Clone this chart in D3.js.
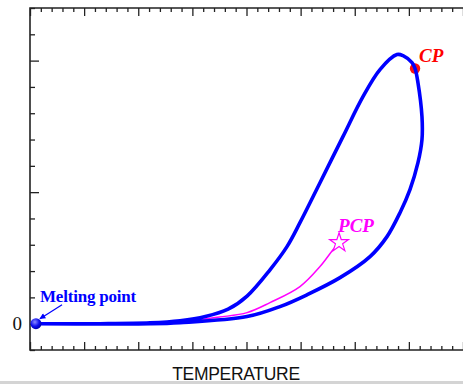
<!DOCTYPE html>
<html>
<head>
<meta charset="utf-8">
<script src="https://cdn.jsdelivr.net/npm/d3@7"></script>
<style>
  html, body { margin: 0; padding: 0; background: #fff; }
  svg { display: block; }
</style>
</head>
<body>
<div id="chart"></div>
<script>
// ─── Data (x: minor tick units of temperature, y: minor tick units) ─────────
const upperX = [0.55, 6.47, 11.09, 13.86, 16.2, 18.3, 20.05, 22.17, 23.74, 24.94, 26.79, 28.91, 30.76, 32.33, 33.90, 34.46, 35.29, 35.57];
const upperY = [0, 0, 0.03, 0.11, 0.27, 0.55, 1.05, 2.05, 2.93, 3.84, 5.36, 7.11, 8.63, 9.66, 10.23, 10.19, 9.92, 9.70];

const lowerX = [0.55, 11.09, 13.86, 20.05, 23.09, 25.59, 28.64, 31.41, 32.98, 34.18, 35.10, 35.84, 36.21, 36.21, 35.84, 35.57];
const lowerY = [0, 0, 0.04, 0.27, 0.65, 1.10, 1.75, 2.55, 3.31, 4.22, 5.10, 6.12, 7.00, 7.87, 9.16, 9.70];

const pcpX = [15.5, 17.5, 20.05, 22.17, 24.94, 26.79, 27.99, 28.55];
const pcpY = [0.14, 0.25, 0.42, 0.80, 1.41, 2.17, 2.81, 3.08];

const meltPoint = [0.55, 0];
const cpPoint = [35.57, 9.70];
const pcpPoint = [28.55, 3.08];
const arrowFrom = [2.96, 0.72];

const xMajor = [0, 5, 10, 15, 20, 25, 30, 35, 40];
const xMinor = [1, 2, 3, 4, 6, 7, 8, 9, 11, 12, 13, 14, 16, 17, 18, 19, 21, 22, 23, 24, 26, 27, 28, 29, 31, 32, 33, 34, 36, 37, 38, 39];
const yMajor = [0, 5, 10];
const yMinor = [-1, 1, 2, 3, 4, 6, 7, 8, 9, 11, 12];
const yLabels = { 0: "0" };

// ─── Chart ───────────────────────────────────────────────────────────────────
const W = 463, H = 384;
const svg = d3.select("#chart").append("svg").attr("width", W).attr("height", H);

const x = d3.scaleLinear().domain([0, 40]).range([30, 463]);
const y = d3.scaleLinear().domain([-1, 12]).range([350, 8]);

const defs = svg.append("defs");
const grad = defs.append("radialGradient").attr("id", "ball").attr("cx", "40%").attr("cy", "35%").attr("r", "65%");
grad.append("stop").attr("offset", "0%").attr("stop-color", "#8c8cff");
grad.append("stop").attr("offset", "60%").attr("stop-color", "#1010ee");
grad.append("stop").attr("offset", "100%").attr("stop-color", "#0000b0");
defs.append("marker").attr("id", "arrow").attr("viewBox", "0 0 10 10")
  .attr("refX", 9).attr("refY", 5).attr("markerWidth", 7).attr("markerHeight", 6)
  .attr("orient", "auto").attr("markerUnits", "userSpaceOnUse")
  .append("path").attr("d", "M0,0 L10,5 L0,10 z").attr("fill", "#0000ff");

// axes: ticks point inward
function tickAxis(axis, vals, size, tr) {
  const g = svg.append("g").attr("transform", tr)
    .call(axis.tickValues(vals).tickSize(size).tickFormat(""));
  g.select(".domain").remove();
  g.selectAll(".tick line").attr("stroke", "#222").attr("stroke-width", 1.3);
  return g;
}
tickAxis(d3.axisBottom(x), xMajor, -8, `translate(0,${y(-1)})`);
tickAxis(d3.axisBottom(x), xMinor, -4, `translate(0,${y(-1)})`);
tickAxis(d3.axisTop(x), xMajor, -8, `translate(0,${y(12)})`);
tickAxis(d3.axisTop(x), xMinor, -4, `translate(0,${y(12)})`);
tickAxis(d3.axisLeft(y), yMajor, -9, `translate(${x(0)},0)`);
tickAxis(d3.axisLeft(y), yMinor, -5, `translate(${x(0)},0)`);

// y labels
svg.append("g").selectAll("text").data(yMajor.filter(d => yLabels[d] !== undefined)).join("text")
  .attr("x", x(0) - 8).attr("y", d => y(d)).attr("dy", "0.35em")
  .attr("text-anchor", "end")
  .style("font-family", "'Liberation Serif', 'Times New Roman', serif")
  .style("font-size", "19px").attr("fill", "#111")
  .text(d => yLabels[d]);

// frame
svg.append("path")
  .attr("d", `M${x(40)},${y(12)} H${x(0)} V${y(-1)} H${x(40)}`)
  .attr("fill", "none").attr("stroke", "#222").attr("stroke-width", 1.6);

// curves
const line = d3.line().x(d => x(d[0])).y(d => y(d[1])).curve(d3.curveCatmullRom.alpha(0.5));
const pcp = pcpX.map((v, i) => [v, pcpY[i]]);
const upper = upperX.map((v, i) => [v, upperY[i]]);
const lower = lowerX.map((v, i) => [v, lowerY[i]]);
const loop = upper.concat(lower.slice(0, -1).reverse());

svg.append("path").datum(pcp).attr("d", line)
  .attr("fill", "none").attr("stroke", "#ff00ff").attr("stroke-width", 1.5);

// CP dot sits under the blue loop
svg.append("circle").attr("cx", x(cpPoint[0])).attr("cy", y(cpPoint[1])).attr("r", 5.2).attr("fill", "#ff1010");

svg.append("path").datum(loop).attr("d", line)
  .attr("fill", "none").attr("stroke", "#0000ff").attr("stroke-width", 3.6)
  .attr("stroke-linejoin", "round").attr("stroke-linecap", "round");

// PCP star
const star = d3.symbol().type(d3.symbolStar).size(110);
svg.append("path").attr("d", star())
  .attr("transform", `translate(${x(pcpPoint[0])},${y(pcpPoint[1])})`)
  .attr("fill", "#fff").attr("stroke", "#ff00ff").attr("stroke-width", 1.2);

svg.append("circle").attr("cx", x(meltPoint[0])).attr("cy", y(meltPoint[1])).attr("r", 5.5).attr("fill", "url(#ball)");

// arrow to melting point
svg.append("line")
  .attr("x1", x(arrowFrom[0])).attr("y1", y(arrowFrom[1]))
  .attr("x2", x(meltPoint[0]) + 4).attr("y2", y(meltPoint[1]) - 5)
  .attr("stroke", "#0000ff").attr("stroke-width", 1.2).attr("marker-end", "url(#arrow)");

// labels
const serif = "'Liberation Serif', 'Times New Roman', serif";
svg.append("text").attr("x", x(meltPoint[0]) + 4).attr("y", y(meltPoint[1]) - 22)
  .style("font-family", serif).style("font-weight", "bold").style("font-size", "17px")
  .style("letter-spacing", "-0.2px").attr("fill", "#0000ff").text("Melting point");
svg.append("text").attr("x", x(cpPoint[0]) + 4).attr("y", y(cpPoint[1]) - 7)
  .style("font-family", serif).style("font-weight", "bold").style("font-style", "italic")
  .style("font-size", "19px").attr("fill", "#ff0000").text("CP");
svg.append("text").attr("x", x(pcpPoint[0]) - 1).attr("y", y(pcpPoint[1]) - 11)
  .style("font-family", serif).style("font-weight", "bold").style("font-style", "italic")
  .style("font-size", "19px").attr("fill", "#ff00ff").text("PCP");

svg.append("text").attr("x", 236).attr("y", 380).attr("text-anchor", "middle")
  .style("font-family", "'Liberation Sans', Arial, sans-serif").style("font-size", "17.5px")
  .style("letter-spacing", "-0.3px").attr("fill", "#111").text("TEMPERATURE");

// grey strip at bottom edge
svg.append("rect").attr("x", 0).attr("y", 381).attr("width", W).attr("height", 3).attr("fill", "#d4d4d4");
</script>
</body>
</html>
